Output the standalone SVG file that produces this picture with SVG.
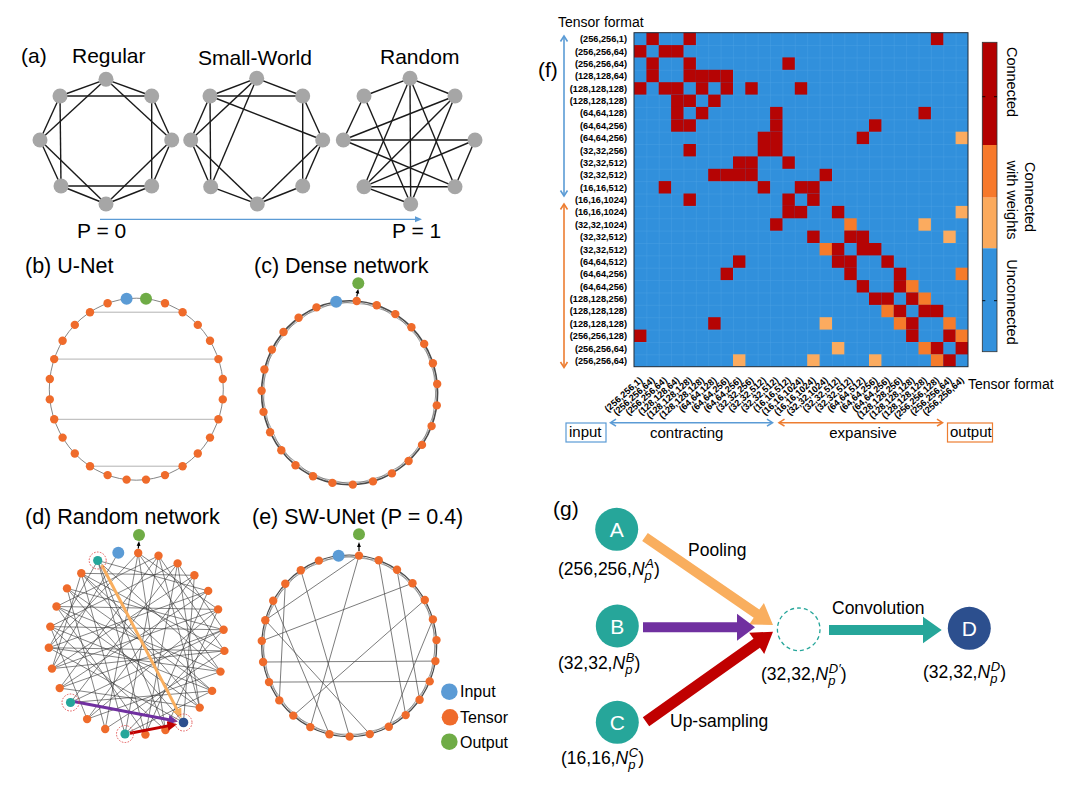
<svg xmlns="http://www.w3.org/2000/svg" width="1070" height="786" viewBox="0 0 1070 786">
<style>
text{font-family:"Liberation Sans",Arial,Helvetica,sans-serif;fill:#000}
.ttl{font-size:21.5px}
.lab{font-size:21px}
.gn{fill:#a6a6a6}
.ge line{stroke:#1a1a1a;stroke-width:1.4}
.or{fill:#ef6b2b}
.bl{fill:#5b9bd5}
.gr{fill:#6fac46}
.tl{fill:#26a69a}
.db{fill:#2c4f8e}
.ring{fill:none;stroke:#e04848;stroke-width:0.9;stroke-dasharray:1.6 1.4}
.ch line{stroke:#333;stroke-width:0.6}
.che line{stroke:#444;stroke-width:0.7}
.rl{font-size:9.2px;font-weight:bold;text-anchor:end}
.R{fill:#b50404}.O{fill:#f67b2a}.P{fill:#fbab5f}
.gt{font-size:17.5px}
.sb{font-size:13px;font-style:italic}
.nl{font-size:21px;fill:#fff;text-anchor:middle}
</style>
<defs>
<pattern id="grid" x="634" y="32.7" width="12.37" height="12.37" patternUnits="userSpaceOnUse">
<rect width="12.37" height="12.37" fill="#3190dc"/>
<path d="M0,0 H12.37 M0,0 V12.37" stroke="#4fa2e4" stroke-width="0.7" fill="none"/>
</pattern>
<marker id="mK" viewBox="0 0 10 10" refX="5" refY="5" markerWidth="4" markerHeight="4" orient="auto"><path d="M0,1 L10,5 L0,9z" fill="#000"/></marker>
<marker id="mP" viewBox="0 0 10 10" refX="6" refY="5" markerWidth="3.2" markerHeight="3.2" orient="auto"><path d="M0,0 L10,5 L0,10z" fill="#f9ae5e"/></marker>
<marker id="mU" viewBox="0 0 10 10" refX="6" refY="5" markerWidth="3.2" markerHeight="3.2" orient="auto"><path d="M0,0 L10,5 L0,10z" fill="#7030a0"/></marker>
<marker id="mR" viewBox="0 0 10 10" refX="6" refY="5" markerWidth="3.2" markerHeight="3.2" orient="auto"><path d="M0,0 L10,5 L0,10z" fill="#c00000"/></marker>
</defs>
<rect width="1070" height="786" fill="#fff"/>

<!-- Panel (a) -->
<g id="panel-a">
<text x="21" y="63" class="lab">(a)</text>
<text x="72" y="63" class="lab">Regular</text>
<text x="198" y="65" class="lab">Small-World</text>
<text x="380" y="64" class="lab">Random</text>
<g class="ge" id="a-regular-edges">
<line x1="106" y1="79.3" x2="151.7" y2="96"/><line x1="151.7" y1="96" x2="171.7" y2="140"/><line x1="171.7" y1="140" x2="151.7" y2="186"/><line x1="151.7" y1="186" x2="106" y2="204"/><line x1="106" y1="204" x2="61" y2="186"/><line x1="61" y1="186" x2="40" y2="140"/><line x1="40" y1="140" x2="60" y2="96"/><line x1="60" y1="96" x2="106" y2="79.3"/>
<line x1="106" y1="79.3" x2="171.7" y2="140"/><line x1="151.7" y1="96" x2="151.7" y2="186"/><line x1="171.7" y1="140" x2="106" y2="204"/><line x1="151.7" y1="186" x2="61" y2="186"/><line x1="106" y1="204" x2="40" y2="140"/><line x1="61" y1="186" x2="60" y2="96"/><line x1="40" y1="140" x2="106" y2="79.3"/><line x1="60" y1="96" x2="151.7" y2="96"/>
</g>
<g class="ge" id="a-sw-edges">
<line x1="256.7" y1="78.3" x2="302.7" y2="96"/><line x1="302.7" y1="96" x2="322.7" y2="140"/><line x1="322.7" y1="140" x2="302.7" y2="186"/><line x1="302.7" y1="186" x2="257.3" y2="204"/><line x1="257.3" y1="204" x2="210.7" y2="186.7"/><line x1="210.7" y1="186.7" x2="190.7" y2="140"/><line x1="190.7" y1="140" x2="210" y2="96"/><line x1="210" y1="96" x2="256.7" y2="78.3"/>
<line x1="210" y1="96" x2="302.7" y2="96"/><line x1="210" y1="96" x2="210.7" y2="186.7"/><line x1="302.7" y1="96" x2="302.7" y2="186"/><line x1="210" y1="96" x2="322.7" y2="140"/><line x1="256.7" y1="78.3" x2="190.7" y2="140"/><line x1="256.7" y1="78.3" x2="210.7" y2="186.7"/><line x1="190.7" y1="140" x2="257.3" y2="204"/><line x1="322.7" y1="140" x2="257.3" y2="204"/>
</g>
<g class="ge" id="a-random-edges">
<line x1="364" y1="96" x2="410" y2="78.3"/><line x1="410" y1="78.3" x2="455" y2="96"/><line x1="364" y1="96" x2="343.3" y2="140"/><line x1="343.3" y1="140" x2="475" y2="140"/><line x1="343.3" y1="140" x2="455" y2="96"/><line x1="343.3" y1="140" x2="455" y2="186.7"/><line x1="364" y1="186.7" x2="455" y2="96"/><line x1="364" y1="186.7" x2="475" y2="140"/><line x1="364" y1="186.7" x2="410" y2="78.3"/><line x1="364" y1="186.7" x2="410.7" y2="204"/><line x1="364" y1="186.7" x2="455" y2="186.7"/><line x1="364" y1="96" x2="410.7" y2="204"/><line x1="410" y1="78.3" x2="410.7" y2="204"/><line x1="410" y1="78.3" x2="455" y2="186.7"/><line x1="455" y1="96" x2="410.7" y2="204"/><line x1="475" y1="140" x2="455" y2="186.7"/>
</g>
<g id="a-nodes" class="gn">
<circle cx="106" cy="79.3" r="7.5"/><circle cx="151.7" cy="96" r="7.5"/><circle cx="171.7" cy="140" r="7.5"/><circle cx="151.7" cy="186" r="7.5"/><circle cx="106" cy="204" r="7.5"/><circle cx="61" cy="186" r="7.5"/><circle cx="40" cy="140" r="7.5"/><circle cx="60" cy="96" r="7.5"/>
<circle cx="256.7" cy="78.3" r="7.5"/><circle cx="302.7" cy="96" r="7.5"/><circle cx="322.7" cy="140" r="7.5"/><circle cx="302.7" cy="186" r="7.5"/><circle cx="257.3" cy="204" r="7.5"/><circle cx="210.7" cy="186.7" r="7.5"/><circle cx="190.7" cy="140" r="7.5"/><circle cx="210" cy="96" r="7.5"/>
<circle cx="410" cy="78.3" r="7.5"/><circle cx="455" cy="96" r="7.5"/><circle cx="475" cy="140" r="7.5"/><circle cx="455" cy="186.7" r="7.5"/><circle cx="410.7" cy="204" r="7.5"/><circle cx="364" cy="186.7" r="7.5"/><circle cx="343.3" cy="140" r="7.5"/><circle cx="364" cy="96" r="7.5"/>
</g>
<line x1="100" y1="219.3" x2="416" y2="219.3" stroke="#5b9bd5" stroke-width="1.3"/>
<polygon points="415,216.3 422,219.3 415,222.3" fill="#5b9bd5"/>
<text x="77" y="238" class="lab">P = 0</text>
<text x="392" y="238" class="lab">P = 1</text>
</g>

<!-- Panel (b) -->
<g id="panel-b">
<text x="25" y="273" class="ttl">(b) U-Net</text>
<ellipse cx="136.3" cy="389.2" rx="87" ry="91" fill="none" stroke="#777" stroke-width="0.9"/>
<g stroke="#aaa" stroke-width="0.9">
<line x1="90" y1="312.2" x2="182.6" y2="312.2"/><line x1="54.2" y1="359.1" x2="218.4" y2="359.1"/><line x1="54.2" y1="419.3" x2="218.4" y2="419.3"/><line x1="90" y1="466.2" x2="182.6" y2="466.2"/>
</g>
<g class="or">
<circle cx="165" cy="303.3" r="4.2"/><circle cx="182.6" cy="312.2" r="4.2"/><circle cx="197.8" cy="324.9" r="4.2"/><circle cx="210" cy="340.8" r="4.2"/><circle cx="218.4" cy="359.1" r="4.2"/><circle cx="222.8" cy="379" r="4.2"/><circle cx="222.8" cy="399.4" r="4.2"/><circle cx="218.4" cy="419.3" r="4.2"/><circle cx="210" cy="437.6" r="4.2"/><circle cx="197.8" cy="453.5" r="4.2"/><circle cx="182.6" cy="466.2" r="4.2"/><circle cx="165" cy="475.1" r="4.2"/><circle cx="146" cy="479.6" r="4.2"/>
<circle cx="107.6" cy="303.3" r="4.2"/><circle cx="90" cy="312.2" r="4.2"/><circle cx="74.8" cy="324.9" r="4.2"/><circle cx="62.6" cy="340.8" r="4.2"/><circle cx="54.2" cy="359.1" r="4.2"/><circle cx="49.8" cy="379" r="4.2"/><circle cx="49.8" cy="399.4" r="4.2"/><circle cx="54.2" cy="419.3" r="4.2"/><circle cx="62.6" cy="437.6" r="4.2"/><circle cx="74.8" cy="453.5" r="4.2"/><circle cx="90" cy="466.2" r="4.2"/><circle cx="107.6" cy="475.1" r="4.2"/><circle cx="126.6" cy="479.6" r="4.2"/>
</g>
<circle id="b-input" class="bl" cx="126.6" cy="298.8" r="6"/>
<circle id="b-output" class="gr" cx="146" cy="298.8" r="6"/>
</g>

<!-- Panel (c) -->
<g id="panel-c">
<text x="254" y="273" class="ttl">(c) Dense network</text>
<ellipse cx="349.6" cy="392.7" rx="88" ry="92" fill="none" stroke="#4a4a4a" stroke-width="1.6"/>
<polygon fill="none" stroke="#666" stroke-width="0.6" points="356.7,301.0 395.3,314.1 424.2,343.9 437.2,384.0 431.6,426.1 408.6,461.0 373.0,481.4 332.4,482.9 295.5,465.3 270.1,432.2 261.6,390.7 271.9,349.6 298.6,317.7 336.2,301.8 376.7,305.2 411.4,327.2 432.9,363.2 436.8,405.4 422.0,444.9 391.9,473.4 352.8,484.6 313.0,476.3 281.3,450.2 263.5,411.9 264.4,369.5 283.5,332.0 316.5,307.4"/>
<g class="or">
<circle cx="356.7" cy="301.0" r="4.2"/><circle cx="376.7" cy="305.2" r="4.2"/><circle cx="395.3" cy="314.1" r="4.2"/><circle cx="411.4" cy="327.2" r="4.2"/><circle cx="424.2" cy="343.9" r="4.2"/><circle cx="432.9" cy="363.2" r="4.2"/><circle cx="437.2" cy="384.0" r="4.2"/><circle cx="436.8" cy="405.4" r="4.2"/><circle cx="431.6" cy="426.1" r="4.2"/><circle cx="422.0" cy="444.9" r="4.2"/><circle cx="408.6" cy="461.0" r="4.2"/><circle cx="391.9" cy="473.4" r="4.2"/><circle cx="373.0" cy="481.4" r="4.2"/><circle cx="352.8" cy="484.6" r="4.2"/><circle cx="332.4" cy="482.9" r="4.2"/><circle cx="313.0" cy="476.3" r="4.2"/><circle cx="295.5" cy="465.3" r="4.2"/><circle cx="281.3" cy="450.2" r="4.2"/><circle cx="270.1" cy="432.2" r="4.2"/><circle cx="263.5" cy="411.9" r="4.2"/><circle cx="261.6" cy="390.7" r="4.2"/><circle cx="264.4" cy="369.5" r="4.2"/><circle cx="271.9" cy="349.6" r="4.2"/><circle cx="283.5" cy="332.0" r="4.2"/><circle cx="298.6" cy="317.7" r="4.2"/><circle cx="316.5" cy="307.4" r="4.2"/>
</g>
<circle id="c-input" class="bl" cx="336.2" cy="301.8" r="6"/>
<line x1="356.8" y1="296.5" x2="357.8" y2="291" stroke="#000" stroke-width="1.2" marker-end="url(#mK)"/>
<circle id="c-output" class="gr" cx="358.3" cy="283.3" r="6"/>
</g>

<!-- Panel (d) -->
<g id="panel-d">
<text x="25" y="524" class="ttl">(d) Random network</text>
<g class="ch">
<line x1="138.2" y1="553.0" x2="165.4" y2="730.0"/><line x1="138.2" y1="553.0" x2="105.2" y2="729.0"/><line x1="138.2" y1="553.0" x2="48.8" y2="647.7"/><line x1="138.2" y1="553.0" x2="220.5" y2="671.6"/>
<line x1="158.5" y1="555.8" x2="125.0" y2="734.0"/><line x1="158.5" y1="555.8" x2="59.7" y2="688.1"/><line x1="158.5" y1="555.8" x2="56.5" y2="606.5"/>
<line x1="177.6" y1="563.4" x2="199.7" y2="707.6"/><line x1="177.6" y1="563.4" x2="70.5" y2="702.5"/><line x1="177.6" y1="563.4" x2="50.3" y2="626.6"/>
<line x1="194.4" y1="575.3" x2="183.5" y2="722.5"/><line x1="194.4" y1="575.3" x2="52.0" y2="668.6"/><line x1="194.4" y1="575.3" x2="81.3" y2="573.3"/>
<line x1="208.2" y1="590.9" x2="145.4" y2="734.6"/><line x1="208.2" y1="590.9" x2="48.8" y2="647.7"/><line x1="208.2" y1="590.9" x2="97.7" y2="560.5"/>
<line x1="218.1" y1="609.4" x2="87.1" y2="719.1"/><line x1="218.1" y1="609.4" x2="56.5" y2="606.5"/><line x1="218.1" y1="609.4" x2="165.4" y2="730.0"/>
<line x1="223.6" y1="629.8" x2="59.7" y2="688.1"/><line x1="223.6" y1="629.8" x2="67.0" y2="588.4"/><line x1="223.6" y1="629.8" x2="125.0" y2="734.0"/>
<line x1="224.4" y1="650.9" x2="52.0" y2="668.6"/><line x1="224.4" y1="650.9" x2="81.3" y2="573.3"/><line x1="224.4" y1="650.9" x2="105.2" y2="729.0"/>
<line x1="220.5" y1="671.6" x2="48.8" y2="647.7"/><line x1="220.5" y1="671.6" x2="97.7" y2="560.5"/><line x1="220.5" y1="671.6" x2="87.1" y2="719.1"/>
<line x1="212.1" y1="690.9" x2="50.3" y2="626.6"/><line x1="212.1" y1="690.9" x2="70.5" y2="702.5"/><line x1="212.1" y1="690.9" x2="81.3" y2="573.3"/>
<line x1="199.7" y1="707.6" x2="56.5" y2="606.5"/><line x1="199.7" y1="707.6" x2="59.7" y2="688.1"/><line x1="199.7" y1="707.6" x2="158.5" y2="555.8"/>
<line x1="183.5" y1="722.5" x2="48.8" y2="647.7"/><line x1="183.5" y1="722.5" x2="67.0" y2="588.4"/>
<line x1="165.4" y1="730.0" x2="50.3" y2="626.6"/><line x1="165.4" y1="730.0" x2="97.7" y2="560.5"/>
<line x1="145.4" y1="734.6" x2="56.5" y2="606.5"/><line x1="145.4" y1="734.6" x2="177.6" y2="563.4"/>
<line x1="125.0" y1="734.0" x2="81.3" y2="573.3"/><line x1="105.2" y1="729.0" x2="67.0" y2="588.4"/>
<line x1="87.1" y1="719.1" x2="194.4" y2="575.3"/><line x1="70.5" y1="702.5" x2="223.6" y2="629.8"/><line x1="59.7" y1="688.1" x2="208.2" y2="590.9"/><line x1="52.0" y1="668.6" x2="218.1" y2="609.4"/><line x1="48.8" y1="647.7" x2="224.4" y2="650.9"/><line x1="50.3" y1="626.6" x2="223.6" y2="629.8"/><line x1="56.5" y1="606.5" x2="220.5" y2="671.6"/><line x1="67.0" y1="588.4" x2="212.1" y2="690.9"/><line x1="81.3" y1="573.3" x2="199.7" y2="707.6"/>
<line x1="97.7" y1="560.5" x2="145.4" y2="734.6"/><line x1="118.3" y1="552.7" x2="52.0" y2="668.6"/><line x1="138.2" y1="553.0" x2="218.1" y2="609.4"/><line x1="158.5" y1="555.8" x2="224.4" y2="650.9"/><line x1="177.6" y1="563.4" x2="223.6" y2="629.8"/><line x1="48.8" y1="647.7" x2="97.7" y2="560.5"/><line x1="52.0" y1="668.6" x2="81.3" y2="573.3"/><line x1="87.1" y1="719.1" x2="50.3" y2="626.6"/><line x1="125.0" y1="734.0" x2="212.1" y2="690.9"/>
</g>
<g class="or">
<circle cx="138.2" cy="553.0" r="4.2"/><circle cx="158.5" cy="555.8" r="4.2"/><circle cx="177.6" cy="563.4" r="4.2"/><circle cx="194.4" cy="575.3" r="4.2"/><circle cx="208.2" cy="590.9" r="4.2"/><circle cx="218.1" cy="609.4" r="4.2"/><circle cx="223.6" cy="629.8" r="4.2"/><circle cx="224.4" cy="650.9" r="4.2"/><circle cx="220.5" cy="671.6" r="4.2"/><circle cx="212.1" cy="690.9" r="4.2"/><circle cx="199.7" cy="707.6" r="4.2"/><circle cx="165.4" cy="730.0" r="4.2"/><circle cx="145.4" cy="734.6" r="4.2"/><circle cx="105.2" cy="729.0" r="4.2"/><circle cx="87.1" cy="719.1" r="4.2"/><circle cx="59.7" cy="688.1" r="4.2"/><circle cx="52.0" cy="668.6" r="4.2"/><circle cx="48.8" cy="647.7" r="4.2"/><circle cx="50.3" cy="626.6" r="4.2"/><circle cx="56.5" cy="606.5" r="4.2"/><circle cx="67.0" cy="588.4" r="4.2"/><circle cx="81.3" cy="573.3" r="4.2"/>
</g>
<line x1="101.7" y1="565" x2="179.7" y2="714.6" stroke="#f9ae5e" stroke-width="3" marker-end="url(#mP)"/>
<line x1="75" y1="701.7" x2="174.2" y2="720.8" stroke="#7030a0" stroke-width="3" marker-end="url(#mU)"/>
<line x1="130" y1="733.3" x2="173.3" y2="724.9" stroke="#c00000" stroke-width="3" marker-end="url(#mR)"/>
<g id="d-node-a"><circle class="ring" cx="97.7" cy="560.5" r="8.5"/><circle class="tl" cx="97.7" cy="560.5" r="4.6"/></g>
<g id="d-node-b"><circle class="ring" cx="70.5" cy="702.5" r="8.5"/><circle class="tl" cx="70.5" cy="702.5" r="4.6"/></g>
<g id="d-node-c"><circle class="ring" cx="125" cy="734" r="8.5"/><circle class="tl" cx="125" cy="734" r="4.6"/></g>
<g id="d-node-d"><circle class="ring" cx="183.5" cy="722.5" r="8.5"/><circle class="db" cx="183.5" cy="722.5" r="4.8"/></g>
<circle id="d-input" class="bl" cx="118.3" cy="552.7" r="6"/>
<line x1="138.3" y1="548.5" x2="138.8" y2="543.5" stroke="#000" stroke-width="1.2" marker-end="url(#mK)"/>
<circle id="d-output" class="gr" cx="139" cy="535" r="6"/>
</g>

<!-- Panel (e) -->
<g id="panel-e">
<text x="252" y="524" class="ttl">(e) SW-UNet (P = 0.4)</text>
<ellipse cx="349.2" cy="645.8" rx="87.5" ry="90.8" fill="none" stroke="#4a4a4a" stroke-width="1.2"/>
<polygon fill="none" stroke="#666" stroke-width="0.6" points="359.0,555.6 397.0,569.7 424.8,600.0 436.5,640.1 429.7,681.4 405.7,715.1 369.8,734.1 329.4,734.2 293.3,715.6 269.0,682.1 261.8,640.9 273.2,600.8 300.8,570.2 338.6,555.7 378.7,560.3 412.5,583.2 432.9,619.4 435.4,661.1 419.6,699.7 388.8,726.7 349.6,736.6 310.3,727.1 279.3,700.4 263.1,662.0 265.3,620.2 285.3,583.8 318.9,560.6"/>
<g class="che">
<line x1="359.0" y1="555.6" x2="310.3" y2="727.1"/><line x1="359.0" y1="555.6" x2="265.3" y2="620.2"/><line x1="378.7" y1="560.3" x2="405.7" y2="715.1"/><line x1="397.0" y1="569.7" x2="419.6" y2="699.7"/><line x1="412.5" y1="583.2" x2="261.8" y2="640.9"/><line x1="435.4" y1="661.1" x2="263.1" y2="662.0"/><line x1="429.7" y1="681.4" x2="269.0" y2="682.1"/><line x1="273.2" y1="600.8" x2="329.4" y2="734.2"/><line x1="265.3" y1="620.2" x2="369.8" y2="734.1"/><line x1="285.3" y1="583.8" x2="279.3" y2="700.4"/><line x1="424.8" y1="600.0" x2="293.3" y2="715.6"/><line x1="432.9" y1="619.4" x2="388.8" y2="726.7"/><line x1="300.8" y1="570.2" x2="349.6" y2="736.6"/>
</g>
<g class="or">
<circle cx="359.0" cy="555.6" r="4.2"/><circle cx="378.7" cy="560.3" r="4.2"/><circle cx="397.0" cy="569.7" r="4.2"/><circle cx="412.5" cy="583.2" r="4.2"/><circle cx="424.8" cy="600.0" r="4.2"/><circle cx="432.9" cy="619.4" r="4.2"/><circle cx="436.5" cy="640.1" r="4.2"/><circle cx="435.4" cy="661.1" r="4.2"/><circle cx="429.7" cy="681.4" r="4.2"/><circle cx="419.6" cy="699.7" r="4.2"/><circle cx="405.7" cy="715.1" r="4.2"/><circle cx="388.8" cy="726.7" r="4.2"/><circle cx="369.8" cy="734.1" r="4.2"/><circle cx="349.6" cy="736.6" r="4.2"/><circle cx="329.4" cy="734.2" r="4.2"/><circle cx="310.3" cy="727.1" r="4.2"/><circle cx="293.3" cy="715.6" r="4.2"/><circle cx="279.3" cy="700.4" r="4.2"/><circle cx="269.0" cy="682.1" r="4.2"/><circle cx="263.1" cy="662.0" r="4.2"/><circle cx="261.8" cy="640.9" r="4.2"/><circle cx="265.3" cy="620.2" r="4.2"/><circle cx="273.2" cy="600.8" r="4.2"/><circle cx="285.3" cy="583.8" r="4.2"/><circle cx="300.8" cy="570.2" r="4.2"/><circle cx="318.9" cy="560.6" r="4.2"/>
</g>
<circle id="e-input" class="bl" cx="338.6" cy="555.7" r="6"/>
<line x1="359" y1="551" x2="359" y2="544.5" stroke="#000" stroke-width="1.2" marker-end="url(#mK)"/>
<circle id="e-output" class="gr" cx="359" cy="534.3" r="6"/>
</g>

<!-- Legend -->
<g id="legend">
<g id="legend-input"><circle class="bl" cx="449.3" cy="691.7" r="8.3"/><text x="460" y="697" font-size="16">Input</text></g>
<g id="legend-tensor"><circle class="or" cx="450" cy="717.3" r="8.3"/><text x="460" y="723" font-size="16">Tensor</text></g>
<g id="legend-output"><circle class="gr" cx="449.3" cy="741.7" r="8.3"/><text x="460" y="747.5" font-size="16">Output</text></g>
</g>

<!-- Panel (f) -->
<g id="panel-f">
<text x="538" y="77" class="lab">(f)</text>
<text x="558" y="27" font-size="14">Tensor format</text>
<rect x="634" y="32.7" width="334" height="334" fill="url(#grid)"/>
<g id="cells">
<rect class="R" x="646.4" y="32.7" width="12.4" height="12.4"/><rect class="R" x="683.5" y="32.7" width="12.4" height="12.4"/><rect class="R" x="930.9" y="32.7" width="12.4" height="12.4"/>
<rect class="R" x="634" y="45.1" width="12.4" height="12.4"/><rect class="R" x="658.7" y="45.1" width="12.4" height="12.4"/><rect class="R" x="671.1" y="45.1" width="12.4" height="12.4"/>
<rect class="R" x="646.4" y="57.4" width="12.4" height="12.4"/><rect class="R" x="683.5" y="57.4" width="12.4" height="12.4"/><rect class="R" x="782.4" y="57.4" width="12.4" height="12.4"/>
<rect class="R" x="646.4" y="69.8" width="12.4" height="12.4"/><rect class="R" x="683.5" y="69.8" width="12.4" height="12.4"/><rect class="R" x="695.9" y="69.8" width="12.4" height="12.4"/><rect class="R" x="708.2" y="69.8" width="12.4" height="12.4"/><rect class="R" x="720.6" y="69.8" width="12.4" height="12.4"/>
<rect class="R" x="634" y="82.2" width="12.4" height="12.4"/><rect class="R" x="658.7" y="82.2" width="12.4" height="12.4"/><rect class="R" x="671.1" y="82.2" width="12.4" height="12.4"/><rect class="R" x="695.9" y="82.2" width="12.4" height="12.4"/><rect class="R" x="720.6" y="82.2" width="12.4" height="12.4"/><rect class="R" x="745.3" y="82.2" width="12.4" height="12.4"/><rect class="R" x="794.8" y="82.2" width="12.4" height="12.4"/>
<rect class="R" x="671.1" y="94.6" width="12.4" height="12.4"/><rect class="R" x="683.5" y="94.6" width="12.4" height="12.4"/><rect class="R" x="708.2" y="94.6" width="12.4" height="12.4"/>
<rect class="R" x="671.1" y="106.9" width="12.4" height="12.4"/><rect class="R" x="695.9" y="106.9" width="12.4" height="12.4"/><rect class="R" x="770.1" y="106.9" width="12.4" height="12.4"/><rect class="R" x="918.5" y="106.9" width="12.4" height="12.4"/>
<rect class="R" x="671.1" y="119.3" width="12.4" height="12.4"/><rect class="R" x="683.5" y="119.3" width="12.4" height="12.4"/><rect class="R" x="770.1" y="119.3" width="12.4" height="12.4"/><rect class="R" x="869" y="119.3" width="12.4" height="12.4"/>
<rect class="R" x="757.7" y="131.7" width="12.4" height="12.4"/><rect class="R" x="770.1" y="131.7" width="12.4" height="12.4"/><rect class="R" x="856.7" y="131.7" width="12.4" height="12.4"/><rect class="P" x="955.6" y="131.7" width="12.4" height="12.4"/>
<rect class="R" x="683.5" y="144" width="12.4" height="12.4"/><rect class="R" x="757.7" y="144" width="12.4" height="12.4"/><rect class="R" x="770.1" y="144" width="12.4" height="12.4"/>
<rect class="R" x="733" y="156.4" width="12.4" height="12.4"/><rect class="R" x="745.3" y="156.4" width="12.4" height="12.4"/><rect class="R" x="782.4" y="156.4" width="12.4" height="12.4"/>
<rect class="R" x="708.2" y="168.8" width="12.4" height="12.4"/><rect class="R" x="720.6" y="168.8" width="12.4" height="12.4"/><rect class="R" x="733" y="168.8" width="12.4" height="12.4"/><rect class="R" x="745.3" y="168.8" width="12.4" height="12.4"/><rect class="R" x="819.6" y="168.8" width="12.4" height="12.4"/>
<rect class="R" x="658.7" y="181.1" width="12.4" height="12.4"/><rect class="R" x="757.7" y="181.1" width="12.4" height="12.4"/><rect class="R" x="794.8" y="181.1" width="12.4" height="12.4"/><rect class="R" x="807.2" y="181.1" width="12.4" height="12.4"/>
<rect class="R" x="683.5" y="193.5" width="12.4" height="12.4"/><rect class="R" x="782.4" y="193.5" width="12.4" height="12.4"/><rect class="R" x="807.2" y="193.5" width="12.4" height="12.4"/>
<rect class="R" x="782.4" y="205.9" width="12.4" height="12.4"/><rect class="R" x="794.8" y="205.9" width="12.4" height="12.4"/><rect class="R" x="831.9" y="205.9" width="12.4" height="12.4"/><rect class="P" x="955.6" y="205.9" width="12.4" height="12.4"/>
<rect class="R" x="770.1" y="218.3" width="12.4" height="12.4"/><rect class="O" x="844.3" y="218.3" width="12.4" height="12.4"/><rect class="P" x="918.5" y="218.3" width="12.4" height="12.4"/>
<rect class="R" x="807.2" y="230.6" width="12.4" height="12.4"/><rect class="R" x="844.3" y="230.6" width="12.4" height="12.4"/><rect class="R" x="856.7" y="230.6" width="12.4" height="12.4"/><rect class="P" x="943.3" y="230.6" width="12.4" height="12.4"/>
<rect class="O" x="819.6" y="243" width="12.4" height="12.4"/><rect class="R" x="831.9" y="243" width="12.4" height="12.4"/><rect class="R" x="856.7" y="243" width="12.4" height="12.4"/><rect class="R" x="869" y="243" width="12.4" height="12.4"/>
<rect class="R" x="733" y="255.4" width="12.4" height="12.4"/><rect class="R" x="831.9" y="255.4" width="12.4" height="12.4"/><rect class="R" x="844.3" y="255.4" width="12.4" height="12.4"/><rect class="R" x="881.4" y="255.4" width="12.4" height="12.4"/>
<rect class="R" x="720.6" y="267.7" width="12.4" height="12.4"/><rect class="R" x="844.3" y="267.7" width="12.4" height="12.4"/><rect class="R" x="893.8" y="267.7" width="12.4" height="12.4"/><rect class="O" x="955.6" y="267.7" width="12.4" height="12.4"/>
<rect class="R" x="856.7" y="280.1" width="12.4" height="12.4"/><rect class="R" x="893.8" y="280.1" width="12.4" height="12.4"/><rect class="O" x="906.1" y="280.1" width="12.4" height="12.4"/>
<rect class="R" x="869" y="292.5" width="12.4" height="12.4"/><rect class="R" x="881.4" y="292.5" width="12.4" height="12.4"/><rect class="R" x="906.1" y="292.5" width="12.4" height="12.4"/><rect class="O" x="918.5" y="292.5" width="12.4" height="12.4"/>
<rect class="O" x="881.4" y="304.8" width="12.4" height="12.4"/><rect class="R" x="893.8" y="304.8" width="12.4" height="12.4"/><rect class="R" x="918.5" y="304.8" width="12.4" height="12.4"/><rect class="R" x="930.9" y="304.8" width="12.4" height="12.4"/>
<rect class="R" x="708.2" y="317.2" width="12.4" height="12.4"/><rect class="P" x="819.6" y="317.2" width="12.4" height="12.4"/><rect class="O" x="893.8" y="317.2" width="12.4" height="12.4"/><rect class="R" x="906.1" y="317.2" width="12.4" height="12.4"/><rect class="O" x="943.3" y="317.2" width="12.4" height="12.4"/>
<rect class="R" x="634" y="329.6" width="12.4" height="12.4"/><rect class="R" x="906.1" y="329.6" width="12.4" height="12.4"/><rect class="R" x="943.3" y="329.6" width="12.4" height="12.4"/><rect class="O" x="955.6" y="329.6" width="12.4" height="12.4"/>
<rect class="P" x="831.9" y="342" width="12.4" height="12.4"/><rect class="O" x="918.5" y="342" width="12.4" height="12.4"/><rect class="R" x="930.9" y="342" width="12.4" height="12.4"/><rect class="R" x="955.6" y="342" width="12.4" height="12.4"/>
<rect class="P" x="733" y="354.3" width="12.4" height="12.4"/><rect class="P" x="807.2" y="354.3" width="12.4" height="12.4"/><rect class="P" x="869" y="354.3" width="12.4" height="12.4"/><rect class="O" x="930.9" y="354.3" width="12.4" height="12.4"/><rect class="R" x="943.3" y="354.3" width="12.4" height="12.4"/>
</g>
<rect x="634" y="32.7" width="334" height="334" fill="none" stroke="#1e2a38" stroke-width="1"/>
<g id="row-labels">
<text class="rl" x="627" y="42.2">(256,256,1)</text>
<text class="rl" x="627" y="54.6">(256,256,64)</text>
<text class="rl" x="627" y="66.9">(256,256,64)</text>
<text class="rl" x="627" y="79.3">(128,128,64)</text>
<text class="rl" x="627" y="91.7">(128,128,128)</text>
<text class="rl" x="627" y="104.1">(128,128,128)</text>
<text class="rl" x="627" y="116.4">(64,64,128)</text>
<text class="rl" x="627" y="128.8">(64,64,256)</text>
<text class="rl" x="627" y="141.2">(64,64,256)</text>
<text class="rl" x="627" y="153.5">(32,32,256)</text>
<text class="rl" x="627" y="165.9">(32,32,512)</text>
<text class="rl" x="627" y="178.3">(32,32,512)</text>
<text class="rl" x="627" y="190.6">(16,16,512)</text>
<text class="rl" x="627" y="203">(16,16,1024)</text>
<text class="rl" x="627" y="215.4">(16,16,1024)</text>
<text class="rl" x="627" y="227.8">(32,32,1024)</text>
<text class="rl" x="627" y="240.1">(32,32,512)</text>
<text class="rl" x="627" y="252.5">(32,32,512)</text>
<text class="rl" x="627" y="264.9">(64,64,512)</text>
<text class="rl" x="627" y="277.2">(64,64,256)</text>
<text class="rl" x="627" y="289.6">(64,64,256)</text>
<text class="rl" x="627" y="302">(128,128,256)</text>
<text class="rl" x="627" y="314.3">(128,128,128)</text>
<text class="rl" x="627" y="326.7">(128,128,128)</text>
<text class="rl" x="627" y="339.1">(256,256,128)</text>
<text class="rl" x="627" y="351.5">(256,256,64)</text>
<text class="rl" x="627" y="363.8">(256,256,64)</text>
</g>
<g id="col-labels">
<text class="rl" transform="translate(643,381) rotate(-42)">(256,256,1)</text>
<text class="rl" transform="translate(655.4,381) rotate(-42)">(256,256,64)</text>
<text class="rl" transform="translate(667.7,381) rotate(-42)">(256,256,64)</text>
<text class="rl" transform="translate(680.1,381) rotate(-42)">(128,128,64)</text>
<text class="rl" transform="translate(692.5,381) rotate(-42)">(128,128,128)</text>
<text class="rl" transform="translate(704.9,381) rotate(-42)">(128,128,128)</text>
<text class="rl" transform="translate(717.2,381) rotate(-42)">(64,64,128)</text>
<text class="rl" transform="translate(729.6,381) rotate(-42)">(64,64,256)</text>
<text class="rl" transform="translate(742,381) rotate(-42)">(64,64,256)</text>
<text class="rl" transform="translate(754.3,381) rotate(-42)">(32,32,256)</text>
<text class="rl" transform="translate(766.7,381) rotate(-42)">(32,32,512)</text>
<text class="rl" transform="translate(779.1,381) rotate(-42)">(32,32,512)</text>
<text class="rl" transform="translate(791.4,381) rotate(-42)">(16,16,512)</text>
<text class="rl" transform="translate(803.8,381) rotate(-42)">(16,16,1024)</text>
<text class="rl" transform="translate(816.2,381) rotate(-42)">(16,16,1024)</text>
<text class="rl" transform="translate(828.6,381) rotate(-42)">(32,32,1024)</text>
<text class="rl" transform="translate(840.9,381) rotate(-42)">(32,32,512)</text>
<text class="rl" transform="translate(853.3,381) rotate(-42)">(32,32,512)</text>
<text class="rl" transform="translate(865.7,381) rotate(-42)">(64,64,512)</text>
<text class="rl" transform="translate(878,381) rotate(-42)">(64,64,256)</text>
<text class="rl" transform="translate(890.4,381) rotate(-42)">(64,64,256)</text>
<text class="rl" transform="translate(902.8,381) rotate(-42)">(128,128,256)</text>
<text class="rl" transform="translate(915.1,381) rotate(-42)">(128,128,128)</text>
<text class="rl" transform="translate(927.5,381) rotate(-42)">(128,128,128)</text>
<text class="rl" transform="translate(939.9,381) rotate(-42)">(256,256,128)</text>
<text class="rl" transform="translate(952.3,381) rotate(-42)">(256,256,64)</text>
<text class="rl" transform="translate(964.6,381) rotate(-42)">(256,256,64)</text>
</g>
<text x="968" y="389" font-size="14">Tensor format</text>
<g id="f-arrows" fill="none" stroke-width="1.6">
<g stroke="#5b9bd5"><line x1="564" y1="37" x2="564" y2="195"/><polyline points="560.5,41.5 564,36 567.5,41.5"/><polyline points="560.5,190.5 564,196 567.5,190.5"/>
<line x1="611" y1="422.7" x2="772" y2="422.7"/><polyline points="616,419.2 610.5,422.7 616,426.2"/><polyline points="767,419.2 772.5,422.7 767,426.2"/></g>
<g stroke="#ed7d31"><line x1="564" y1="204" x2="564" y2="367"/><polyline points="560.5,209.5 564,204 567.5,209.5"/><polyline points="560.5,362 564,367.5 567.5,362"/>
<line x1="779" y1="422.7" x2="942" y2="422.7"/><polyline points="784.5,419.2 779,422.7 784.5,426.2"/><polyline points="937,419.2 942.5,422.7 937,426.2"/></g>
</g>
<g id="f-input"><rect x="566" y="423" width="40" height="19" fill="none" stroke="#5b9bd5" stroke-width="1.2"/><text x="569" y="436.5" font-size="15">input</text></g>
<g id="f-output"><rect x="947.5" y="423" width="45" height="19" fill="none" stroke="#ed7d31" stroke-width="1.2"/><text x="950" y="436.5" font-size="15">output</text></g>
<text x="686.7" y="438.3" font-size="15" text-anchor="middle">contracting</text>
<text x="863" y="438.3" font-size="15" text-anchor="middle">expansive</text>
<g id="colorbar">
<rect x="982.3" y="42.3" width="14.7" height="102.7" fill="#b30000"/>
<rect x="982.3" y="145" width="14.7" height="52.7" fill="#f7792b"/>
<rect x="982.3" y="197.7" width="14.7" height="50.6" fill="#fbaa5d"/>
<rect x="982.3" y="248.3" width="14.7" height="103.4" fill="#3391dc"/>
<rect x="982.3" y="42.3" width="14.7" height="309.4" fill="none" stroke="#333" stroke-width="0.8"/>
<g stroke="#000" stroke-width="0.9"><line x1="982.3" y1="96.7" x2="985.3" y2="96.7"/><line x1="994" y1="96.7" x2="997" y2="96.7"/><line x1="982.3" y1="300.7" x2="985.3" y2="300.7"/><line x1="994" y1="300.7" x2="997" y2="300.7"/></g>
<text font-size="14.5" text-anchor="middle" transform="translate(1007,82) rotate(90)">Connected</text>
<text font-size="14.5" text-anchor="middle" transform="translate(1025,197) rotate(90)">Connected</text>
<text font-size="14.5" text-anchor="middle" transform="translate(1007,200) rotate(90)">with weights</text>
<text font-size="14.5" text-anchor="middle" transform="translate(1007,302) rotate(90)">Unconnected</text>
</g>
</g>

<!-- Panel (g) -->
<g id="panel-g">
<text x="553" y="516" class="lab">(g)</text>
<g id="g-connectors">
<polygon fill="#f9ae5e" points="642.2,541.1 753.7,617.8 749.1,624.4 773,625 763.9,603 759.3,609.6 647.8,532.9"/>
<polygon fill="#7030a0" points="643,622.3 737,622.3 737,613.8 755,627.3 737,640.8 737,632.3 643,632.3"/>
<polygon fill="#c00000" points="649.2,726.2 759.9,647.8 764.2,653.9 773,631.7 749.2,632.7 753.5,638.8 642.8,717.2"/>
<polygon fill="#26a69a" points="829,625 923,625 923,616.7 941.7,630 923,643.3 923,635 829,635"/>
</g>
<text x="688" y="556" class="gt">Pooling</text>
<text x="832" y="614" class="gt">Convolution</text>
<text x="670" y="727" class="gt">Up-sampling</text>
<g id="g-node-A"><circle class="tl" cx="616.7" cy="529.3" r="21.5"/><text class="nl" x="616.7" y="537">A</text>
<text x="558" y="575" class="gt">(256,256,<tspan font-style="italic">N</tspan><tspan class="sb" dy="5">p</tspan><tspan class="sb" dx="-6.5" dy="-12.5">A</tspan><tspan dy="7.5">)</tspan></text></g>
<g id="g-node-B"><circle class="tl" cx="617.3" cy="626" r="21.5"/><text class="nl" x="617.3" y="633.7">B</text>
<text x="558" y="669" class="gt">(32,32,<tspan font-style="italic">N</tspan><tspan class="sb" dy="5">p</tspan><tspan class="sb" dx="-6.5" dy="-12.5">B</tspan><tspan dy="7.5">)</tspan></text></g>
<g id="g-node-C"><circle class="tl" cx="617.3" cy="722.3" r="21.5"/><text class="nl" x="617.3" y="730">C</text>
<text x="561" y="764" class="gt">(16,16,<tspan font-style="italic">N</tspan><tspan class="sb" dy="5">p</tspan><tspan class="sb" dx="-6.5" dy="-12.5">C</tspan><tspan dy="7.5">)</tspan></text></g>
<g id="g-node-Dprime"><circle cx="798.7" cy="629.3" r="21.3" fill="none" stroke="#26a69a" stroke-width="1.3" stroke-dasharray="4 3"/>
<text x="761" y="680" class="gt">(32,32,<tspan font-style="italic">N</tspan><tspan class="sb" dy="5">p</tspan><tspan class="sb" dx="-6.5" dy="-12.5">D′</tspan><tspan dy="7.5">)</tspan></text></g>
<g id="g-node-D"><circle class="db" cx="969.3" cy="628.3" r="21.5"/><text class="nl" x="969.3" y="636">D</text>
<text x="923" y="678" class="gt">(32,32,<tspan font-style="italic">N</tspan><tspan class="sb" dy="5">p</tspan><tspan class="sb" dx="-6.5" dy="-12.5">D</tspan><tspan dy="7.5">)</tspan></text></g>
</g>
</svg>
